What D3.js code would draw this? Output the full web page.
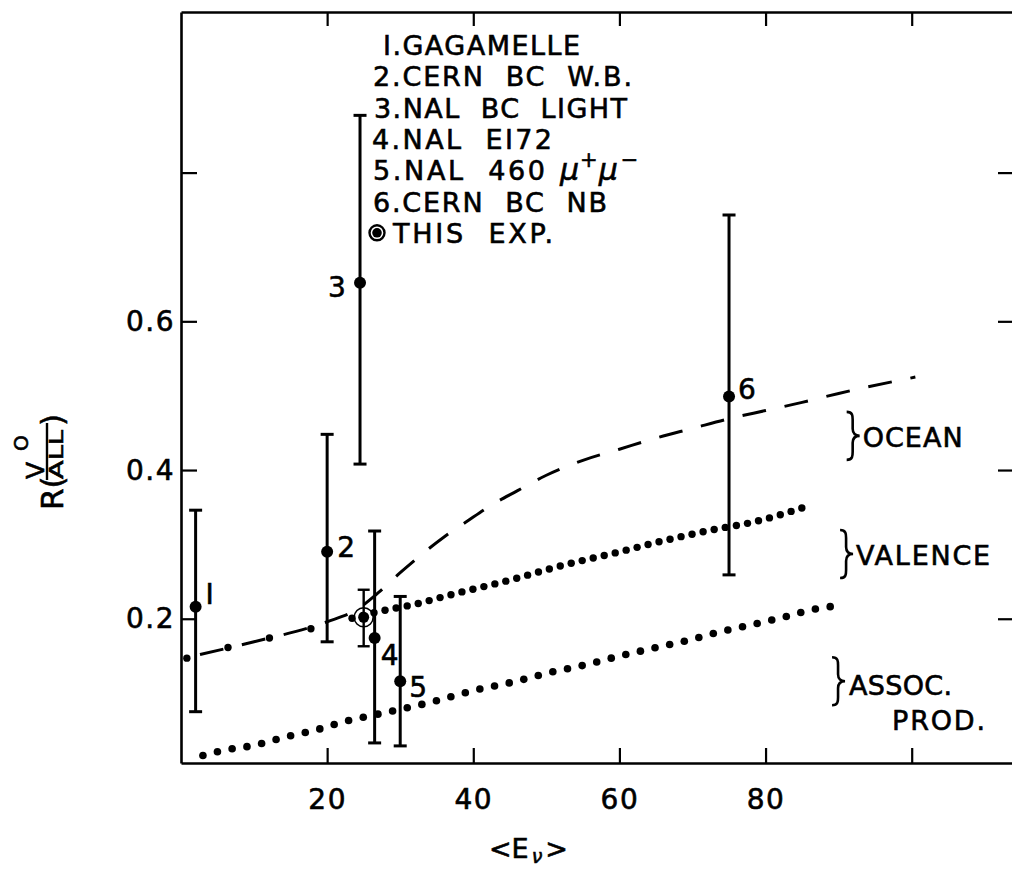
<!DOCTYPE html>
<html>
<head>
<meta charset="utf-8">
<script src="https://cdn.jsdelivr.net/npm/d3@7"></script>
<style>
  html, body { margin: 0; padding: 0; background: #fff; }
  svg { display: block; }
  text { font-family: "DejaVu Sans", sans-serif; fill: #000; stroke: #000; stroke-width: 0.6px; }
</style>
</head>
<body>
<svg id="chart" width="1012" height="869"></svg>
<script>
// ---- Data -------------------------------------------------------------
// Published measurements: label, mean neutrino energy, ratio and error range
const expLabels = ["I", "2", "3", "4", "5", "6"];
const expEnergy = [2, 20, 24.5, 26.5, 30, 75];
const expRatio  = [0.216, 0.290, 0.652, 0.174, 0.116, 0.499];
const expHigh   = [0.346, 0.448, 0.877, 0.318, 0.230, 0.743];
const expLow    = [0.075, 0.169, 0.408, 0.033, 0.029, 0.259];

// This experiment
const thisEnergy = 25;
const thisRatio  = 0.202;
const thisHigh   = 0.239;
const thisLow    = 0.163;

// Model curves
const oceanE = [2.6, 10, 20, 24, 27, 30, 33, 36, 39, 42, 46, 50, 55, 60, 65, 70, 75, 80, 85, 90, 100.5];
const oceanR = [0.152, 0.169, 0.196, 0.212, 0.235, 0.262, 0.287, 0.310, 0.330, 0.350, 0.372, 0.393, 0.413, 0.428, 0.443, 0.456, 0.469, 0.480, 0.491, 0.503, 0.525];

const valenceE = [0.8, 8, 13, 18.8, 22.3, 28.2, 31.8, 36.8, 45, 52.3, 59.2, 66.5, 74, 77.4, 85.6];
const valenceR = [0.147, 0.165, 0.176, 0.189, 0.198, 0.212, 0.219, 0.232, 0.252, 0.272, 0.288, 0.306, 0.322, 0.328, 0.351];

const assocE = [3, 6.3, 9.6, 14.3, 18.3, 22.5, 27.1, 33.9, 40.7, 45.5, 50.6, 54.9, 60.1, 64.9, 69.4, 74, 78.6, 82, 86.8, 90.2];
const assocR = [0.016, 0.024, 0.029, 0.041, 0.050, 0.062, 0.072, 0.087, 0.105, 0.115, 0.128, 0.137, 0.150, 0.161, 0.171, 0.183, 0.193, 0.201, 0.213, 0.218];

// Axis ticks
const xTicks = [20, 40, 60, 80, 100];
const xTickLabels = ["20", "40", "60", "80", ""];
const yTicks = [0.2, 0.4, 0.6, 0.8];
const yTickLabels = ["0.2", "0.4", "0.6", ""];

// Legend entries
const legendText = ["I.GAGAMELLE", "2.CERN  BC  W.B.", "3.NAL  BC  LIGHT", "4.NAL  EI72", "5.NAL  460", "6.CERN  BC  NB", "THIS  EXP."];
const curveNames = ["OCEAN", "VALENCE", "ASSOC."];
const curveNameExtra = "PROD.";

// ---- Layout -----------------------------------------------------------
const svg = d3.select("#chart");
const x = d3.scaleLinear().domain([0, 114]).range([181, 1014]);
const y = d3.scaleLinear().domain([0.006, 1.016]).range([763, 12]);

const line = d3.line().x(d => x(d[0])).y(d => y(d[1])).curve(d3.curveMonotoneX);
const zip = (a, b) => a.map((v, i) => [v, b[i]]);

// ---- Frame and axes ---------------------------------------------------
function styleAxis(g) {
  g.select("path.domain").attr("stroke", "#000").attr("stroke-width", 2.6);
  g.selectAll(".tick line").attr("stroke", "#000").attr("stroke-width", 2.2);
  g.selectAll(".tick text").attr("font-size", 28).attr("letter-spacing", 1.5)
    .attr("font-family", "DejaVu Sans, sans-serif").attr("fill", "#000");
}

svg.append("g")
  .attr("transform", `translate(0,${y(0.006)})`)
  .call(d3.axisBottom(x).tickValues(xTicks).tickSizeInner(-15).tickSizeOuter(0)
    .tickPadding(26).tickFormat((d, i) => xTickLabels[i]))
  .call(styleAxis);

svg.append("g")
  .attr("transform", `translate(0,${y(1.016)})`)
  .call(d3.axisTop(x).tickValues(xTicks).tickSizeInner(-14).tickSizeOuter(0).tickFormat(""))
  .call(styleAxis);

svg.append("g")
  .attr("transform", `translate(${x(0)},0)`)
  .call(d3.axisLeft(y).tickValues(yTicks).tickSizeInner(-16).tickSizeOuter(0)
    .tickPadding(6).tickFormat((d, i) => yTickLabels[i]))
  .call(styleAxis);

svg.append("g")
  .attr("transform", `translate(${x(114)},0)`)
  .call(d3.axisRight(y).tickValues(yTicks).tickSizeInner(-16).tickSizeOuter(0).tickFormat(""))
  .call(styleAxis);

// ---- Axis titles ------------------------------------------------------
const xt = svg.append("text").attr("x", 489).attr("y", 858).attr("font-size", 27);
xt.append("tspan").text("<E");
xt.append("tspan").attr("font-size", 19).attr("dy", 5).attr("dx", 3).attr("font-style", "italic").text("ν");
xt.append("tspan").attr("dy", -5).attr("dx", 3).text(">");

// rotated ratio label R(V°/ALL)
const yt = svg.append("g").attr("transform", "translate(63,510) rotate(-90)");
yt.append("text").attr("x", 0).attr("y", 0).attr("font-size", 31).text("R(");
yt.append("text").attr("x", 31).attr("y", -19).attr("font-size", 25).text("V");
yt.append("text").attr("x", 59).attr("y", -35).attr("font-size", 20).text("O");
yt.append("line").attr("x1", 30).attr("x2", 87).attr("y1", -16).attr("y2", -16)
  .attr("stroke", "#000").attr("stroke-width", 2.4);
yt.append("text").attr("x", 31).attr("y", 0).attr("font-size", 19)
  .attr("textLength", 49).attr("lengthAdjust", "spacingAndGlyphs").text("ALL");
yt.append("text").attr("x", 84).attr("y", 0).attr("font-size", 31).text(")");

// ---- Model curves -----------------------------------------------------
svg.append("path")
  .attr("d", line(zip(oceanE, oceanR)))
  .attr("fill", "none").attr("stroke", "#000").attr("stroke-width", 3)
  .attr("stroke-dasharray", "24,19");

function dotsAlong(pts, breakE, sparse, dense, r) {
  const p = svg.append("path").attr("d", line(pts)).attr("fill", "none");
  const node = p.node();
  const L = node.getTotalLength();
  const out = [];
  let s = 0;
  while (s <= L) {
    const pt = node.getPointAtLength(s);
    out.push([pt.x, pt.y]);
    s += x.invert(pt.x) < breakE ? sparse : dense;
  }
  p.remove();
  svg.append("g").selectAll("circle").data(out).join("circle")
    .attr("cx", d => d[0]).attr("cy", d => d[1]).attr("r", r).attr("fill", "#000");
}
dotsAlong(zip(valenceE, valenceR), 19, 42.5, 11.3, 3.7);
dotsAlong(zip(assocE, assocR), 0, 15, 15, 3.8);

// ---- Error bars and points -------------------------------------------
const capW = 6.5;
const bars = svg.append("g").attr("stroke", "#000").attr("stroke-width", 3);
expEnergy.forEach((e, i) => {
  bars.append("line").attr("x1", x(e)).attr("x2", x(e)).attr("y1", y(expLow[i])).attr("y2", y(expHigh[i]));
  bars.append("line").attr("x1", x(e) - capW).attr("x2", x(e) + capW).attr("y1", y(expHigh[i])).attr("y2", y(expHigh[i]));
  bars.append("line").attr("x1", x(e) - capW).attr("x2", x(e) + capW).attr("y1", y(expLow[i])).attr("y2", y(expLow[i]));
});
svg.append("g").selectAll("circle").data(expEnergy).join("circle")
  .attr("cx", d => x(d)).attr("cy", (d, i) => y(expRatio[i])).attr("r", 6).attr("fill", "#000");

// point labels, offset from each marker
const labelOffset = [[10, -3], [10, 5], [-32, 14], [6, 27], [9, 16], [9, 3]];
svg.append("g").selectAll("text").data(expLabels).join("text")
  .attr("x", (d, i) => x(expEnergy[i]) + labelOffset[i][0])
  .attr("y", (d, i) => y(expRatio[i]) + labelOffset[i][1])
  .attr("font-size", 28).text(d => d);

// this experiment
const te = svg.append("g");
te.append("line").attr("x1", x(thisEnergy)).attr("x2", x(thisEnergy))
  .attr("y1", y(thisLow)).attr("y2", y(thisHigh)).attr("stroke", "#000").attr("stroke-width", 2.4);
[thisLow, thisHigh].forEach(v => te.append("line")
  .attr("x1", x(thisEnergy) - 6).attr("x2", x(thisEnergy) + 6).attr("y1", y(v)).attr("y2", y(v))
  .attr("stroke", "#000").attr("stroke-width", 2.4));
te.append("circle").attr("cx", x(thisEnergy)).attr("cy", y(thisRatio)).attr("r", 9.5)
  .attr("fill", "none").attr("stroke", "#000").attr("stroke-width", 1.6);
te.append("circle").attr("cx", x(thisEnergy)).attr("cy", y(thisRatio)).attr("r", 5.5).attr("fill", "#000");

// ---- Legend -----------------------------------------------------------
const legX = [383, 373, 374, 372, 373, 373, 393];
const legW = [197, 259, 253, 180, 172, 234, 160];
legendText.forEach((t, i) => {
  svg.append("text").attr("x", legX[i]).attr("y", 55 + i * 31.3)
    .attr("font-size", 27).attr("textLength", legW[i]).attr("lengthAdjust", "spacing")
    .style("white-space", "pre").text(t);
});
const mu = svg.append("text").attr("x", 560).attr("y", 55 + 4 * 31.3).attr("font-size", 30);
mu.append("tspan").attr("font-style", "italic").text("μ");
mu.append("tspan").attr("font-size", 21).attr("dy", -13).attr("dx", 1).text("+");
mu.append("tspan").attr("font-style", "italic").attr("font-size", 30).attr("dy", 13).attr("dx", 1).text("μ");
mu.append("tspan").attr("font-size", 21).attr("dy", -13).attr("dx", 3).text("−");
svg.append("circle").attr("cx", 377).attr("cy", 55 + 6 * 31.3 - 10).attr("r", 7.5)
  .attr("fill", "none").attr("stroke", "#000").attr("stroke-width", 2.4);
svg.append("circle").attr("cx", 377).attr("cy", 55 + 6 * 31.3 - 10).attr("r", 4.8).attr("fill", "#000");

// ---- Curve annotations with braces -----------------------------------
const braceAt = [[91.1, 0.446], [90.2, 0.287], [89.1, 0.116]];
const braceH = 48;
function bracePath(h) {
  const a = h / 2;
  return `M0,${-a} C6,${-a} 6,${-a + 4} 6,${-a + 8} L6,-7 C6,-2 9,0 13,0 C9,0 6,2 6,7 L6,${a - 8} C6,${a - 4} 6,${a} 0,${a}`;
}
const nameW = [100, 134, 103];
braceAt.forEach((b, i) => {
  const bx = x(b[0]), by = y(b[1]);
  svg.append("path").attr("transform", `translate(${bx},${by})`).attr("d", bracePath(braceH))
    .attr("fill", "none").attr("stroke", "#000").attr("stroke-width", 2.6);
  svg.append("text").attr("x", bx + (i === 2 ? 17 : 16)).attr("y", by + (i === 2 ? 14 : 11))
    .attr("font-size", 27).attr("textLength", nameW[i]).attr("lengthAdjust", "spacing").text(curveNames[i]);
});
svg.append("text").attr("x", x(braceAt[2][0]) + 60).attr("y", y(braceAt[2][1]) + 49)
  .attr("font-size", 27).attr("textLength", 93).attr("lengthAdjust", "spacing").text(curveNameExtra);
</script>
</body>
</html>
